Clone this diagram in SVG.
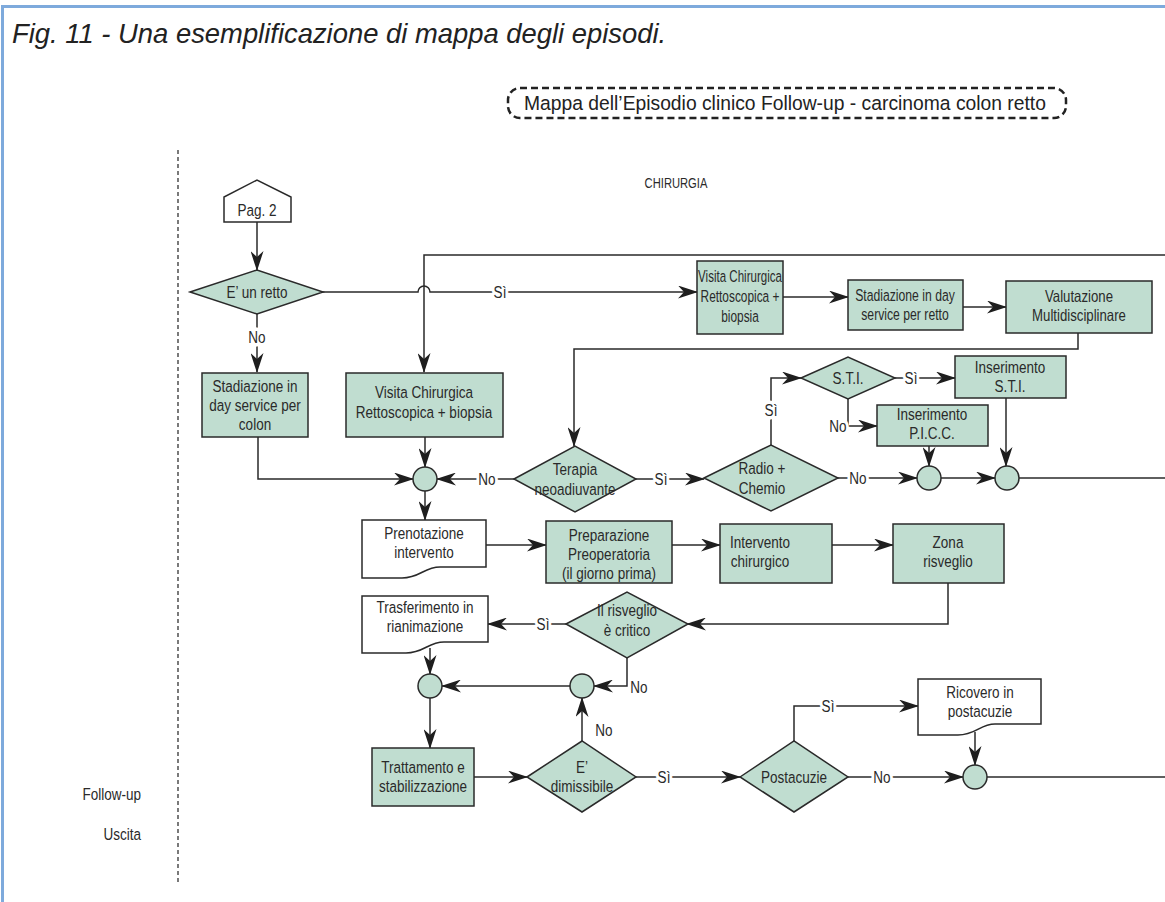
<svg xmlns="http://www.w3.org/2000/svg" width="1165" height="902" viewBox="0 0 1165 902">
<style>
.frame{fill:none;stroke:#7eaadc;stroke-width:3}
.title{font-family:"Liberation Sans",Arial,sans-serif;font-style:italic;font-size:27.4px;fill:#222}
.hdr{font-family:"Liberation Sans",Arial,sans-serif;font-size:19.3px;fill:#222}
.t{font-family:"Liberation Sans",Arial,sans-serif;font-size:16.5px;fill:#2a2a2a;text-anchor:middle}
.lane{font-family:"Liberation Sans",Arial,sans-serif;font-size:16.5px;fill:#2a2a2a;text-anchor:end}
.lbl{font-family:"Liberation Sans",Arial,sans-serif;font-size:16.5px;fill:#2a2a2a;text-anchor:middle;stroke:#fff;stroke-width:7;paint-order:stroke;stroke-linejoin:round}
.box{fill:#c0ddd0;stroke:#2a2a2a;stroke-width:1.5}
.doc{fill:#fff;stroke:#2a2a2a;stroke-width:1.5}
.ln{fill:none;stroke:#2a2a2a;stroke-width:1.5}
.arr{fill:none;stroke:#2a2a2a;stroke-width:1.5;marker-end:url(#ah)}
</style>
<defs>
<marker id="ah" markerUnits="userSpaceOnUse" markerWidth="20" markerHeight="13" viewBox="0 0 20 13" refX="19" refY="6.5" orient="auto">
<path d="M0,0 L20,6.5 L0,13 L6,6.5 Z" fill="#1e1e1e"/>
</marker>
</defs>
<rect width="1165" height="902" fill="#fff"/>
<path class="frame" d="M2.5,902 V6.5 H1165"/>
<text class="title" x="12" y="43">Fig. 11 - Una esemplificazione di mappa degli episodi.</text>
<g id="header">
<rect x="508" y="88" width="558" height="30" rx="12" fill="none" stroke="#222" stroke-width="2.5" stroke-dasharray="7,4"/>
<text class="hdr" x="785" y="110" text-anchor="middle">Mappa dell’Episodio clinico Follow-up - carcinoma colon retto</text>
</g>
<g id="lanes">
<line x1="178" y1="150" x2="178" y2="882" stroke="#222" stroke-width="1.2" stroke-dasharray="4,3"/>
<text class="t" transform="translate(676,188) scale(.8,1)" style="font-size:14px">CHIRURGIA</text>
<text class="lane" transform="translate(141,800) scale(.82,1)">Follow-up</text>
<text class="lane" transform="translate(141,840) scale(.82,1)">Uscita</text>
</g>
<g id="connectors">
<path class="arr" d="M257,222 V270"/>
<path class="arr" d="M257,314 V372"/>
<path class="arr" d="M322,292 H418 A6,6 0 0 1 430,292 H697"/>
<path class="arr" d="M1165,255 H424 V372"/>
<path class="arr" d="M782,297 H848"/>
<path class="arr" d="M963,307 H1006"/>
<path class="arr" d="M1078,333 V349 H574 V446"/>
<path class="arr" d="M771,445 V378 H801"/>
<path class="arr" d="M895,378 H955"/>
<path class="arr" d="M848,399 V426 H877"/>
<path class="arr" d="M929,446 V466"/>
<path class="arr" d="M1006,398 V466"/>
<path class="arr" d="M941,478 H995"/>
<path class="ln" d="M1019,478 H1165"/>
<path class="arr" d="M838,478 H917"/>
<path class="arr" d="M636,479 H704"/>
<path class="arr" d="M514,479 H437"/>
<path class="arr" d="M425,437 V467"/>
<path class="arr" d="M258,437 V479 H413"/>
<path class="arr" d="M425,491 V520"/>
<path class="arr" d="M486,545 H546"/>
<path class="arr" d="M672,545 H720"/>
<path class="arr" d="M832,545 H893"/>
<path class="arr" d="M948,583 V624 H687"/>
<path class="arr" d="M566,624 H488"/>
<path class="arr" d="M430,648 V674"/>
<path class="arr" d="M627,658 V686 H594"/>
<path class="arr" d="M570,686 H442"/>
<path class="arr" d="M430,698 V748"/>
<path class="arr" d="M474,777 H527"/>
<path class="arr" d="M582,741 V698"/>
<path class="arr" d="M636,777 H740"/>
<path class="arr" d="M794,741 V706 H918"/>
<path class="arr" d="M975,732 V765"/>
<path class="arr" d="M848,777 H963"/>
<path class="ln" d="M987,777 H1165"/>
<text class="lbl" transform="translate(257,343) scale(.82,1)">No</text>
<text class="lbl" transform="translate(500,298) scale(.82,1)">Sì</text>
<text class="lbl" transform="translate(771,416) scale(.82,1)">Sì</text>
<text class="lbl" transform="translate(911,384) scale(.82,1)">Sì</text>
<text class="lbl" transform="translate(838,432) scale(.82,1)">No</text>
<text class="lbl" transform="translate(858,484) scale(.82,1)">No</text>
<text class="lbl" transform="translate(487,485) scale(.82,1)">No</text>
<text class="lbl" transform="translate(661,485) scale(.82,1)">Sì</text>
<text class="lbl" transform="translate(543,630) scale(.82,1)">Sì</text>
<text class="lbl" transform="translate(639,693) scale(.82,1)">No</text>
<text class="lbl" transform="translate(604,736) scale(.82,1)">No</text>
<text class="lbl" transform="translate(664,783) scale(.82,1)">Sì</text>
<text class="lbl" transform="translate(828,712) scale(.82,1)">Sì</text>
<text class="lbl" transform="translate(882,783) scale(.82,1)">No</text>
</g>
<g id="pag2">
<polygon class="doc" points="224,222 224,197 257,180 291,197 291,222"/>
<text class="t" transform="translate(257,216) scale(.82,1)">Pag. 2</text>
</g>
<g id="e-un-retto">
<polygon class="box" points="190,292 257,270 323,292 257,314"/>
<text class="t" transform="translate(257,298) scale(.82,1)">E’ un retto</text>
</g>
<g id="stadiazione-colon">
<rect class="box" x="202" y="373" width="106" height="64"/>
<text class="t" transform="translate(255,392) scale(.82,1)">Stadiazione in</text>
<text class="t" transform="translate(255,411) scale(.82,1)">day service per</text>
<text class="t" transform="translate(255,430) scale(.82,1)">colon</text>
</g>
<g id="visita-sx">
<rect class="box" x="346" y="373" width="157" height="64"/>
<text class="t" transform="translate(424,398) scale(.82,1)">Visita Chirurgica</text>
<text class="t" transform="translate(424,418) scale(.82,1)">Rettoscopica + biopsia</text>
</g>
<g id="visita-dx">
<rect class="box" x="697" y="261" width="86" height="73"/>
<text class="t" transform="translate(740,282) scale(.7,1)">Visita Chirurgica</text>
<text class="t" transform="translate(740,302) scale(.72,1)">Rettoscopica +</text>
<text class="t" transform="translate(740,322) scale(.72,1)">biopsia</text>
</g>
<g id="stadiazione-retto">
<rect class="box" x="848" y="280" width="115" height="50"/>
<text class="t" transform="translate(905,301) scale(.74,1)">Stadiazione in day</text>
<text class="t" transform="translate(905,320) scale(.74,1)">service per retto</text>
</g>
<g id="valutazione">
<rect class="box" x="1006" y="281" width="146" height="52"/>
<text class="t" transform="translate(1079,302) scale(.8,1)">Valutazione</text>
<text class="t" transform="translate(1079,321) scale(.8,1)">Multidisciplinare</text>
</g>
<g id="sti">
<polygon class="box" points="801,378 848,357 895,378 848,399"/>
<text class="t" transform="translate(848,384) scale(.82,1)">S.T.I.</text>
</g>
<g id="ins-sti">
<rect class="box" x="955" y="356" width="111" height="42"/>
<text class="t" transform="translate(1010,373) scale(.82,1)">Inserimento</text>
<text class="t" transform="translate(1010,392) scale(.82,1)">S.T.I.</text>
</g>
<g id="ins-picc">
<rect class="box" x="877" y="405" width="111" height="41"/>
<text class="t" transform="translate(932,420) scale(.82,1)">Inserimento</text>
<text class="t" transform="translate(932,439) scale(.82,1)">P.I.C.C.</text>
</g>
<g id="terapia">
<polygon class="box" points="514,479 575,446 636,479 575,512"/>
<text class="t" transform="translate(575,475) scale(.82,1)">Terapia</text>
<text class="t" transform="translate(575,495) scale(.82,1)">neoadiuvante</text>
</g>
<g id="radio">
<polygon class="box" points="704,478 771,445 838,478 771,511"/>
<text class="t" transform="translate(762,474) scale(.82,1)">Radio +</text>
<text class="t" transform="translate(762,494) scale(.82,1)">Chemio</text>
</g>
<g id="j1"><circle class="box" cx="425" cy="479" r="12"/></g>
<g id="j2"><circle class="box" cx="929" cy="478" r="12"/></g>
<g id="j3"><circle class="box" cx="1007" cy="478" r="12"/></g>
<g id="prenotazione">
<path class="doc" d="M362,520 H486 V567 H440 C424,567 420,578 402,578 H362 Z"/>
<text class="t" transform="translate(424,539) scale(.82,1)">Prenotazione</text>
<text class="t" transform="translate(424,558) scale(.82,1)">intervento</text>
</g>
<g id="preparazione">
<rect class="box" x="546" y="521" width="126" height="62"/>
<text class="t" transform="translate(609,541) scale(.82,1)">Preparazione</text>
<text class="t" transform="translate(609,560) scale(.82,1)">Preoperatoria</text>
<text class="t" transform="translate(609,579) scale(.82,1)">(il giorno prima)</text>
</g>
<g id="intervento">
<rect class="box" x="720" y="524" width="112" height="59"/>
<text class="t" transform="translate(760,548) scale(.82,1)">Intervento</text>
<text class="t" transform="translate(760,567) scale(.82,1)">chirurgico</text>
</g>
<g id="zona">
<rect class="box" x="893" y="524" width="111" height="59"/>
<text class="t" transform="translate(948,548) scale(.82,1)">Zona</text>
<text class="t" transform="translate(948,567) scale(.82,1)">risveglio</text>
</g>
<g id="risveglio">
<polygon class="box" points="566,624 627,592 688,624 627,658"/>
<text class="t" transform="translate(627,616) scale(.82,1)">Il risveglio</text>
<text class="t" transform="translate(627,636) scale(.82,1)">è critico</text>
</g>
<g id="trasferimento">
<path class="doc" d="M362,596 H488 V642 H444 C428,642 424,653 406,653 H362 Z"/>
<text class="t" transform="translate(425,613) scale(.82,1)">Trasferimento in</text>
<text class="t" transform="translate(425,632) scale(.82,1)">rianimazione</text>
</g>
<g id="j4"><circle class="box" cx="430" cy="686" r="12"/></g>
<g id="j5"><circle class="box" cx="582" cy="686" r="12"/></g>
<g id="trattamento">
<rect class="box" x="372" y="748" width="102" height="58"/>
<text class="t" transform="translate(423,773) scale(.82,1)">Trattamento e</text>
<text class="t" transform="translate(423,792) scale(.82,1)">stabilizzazione</text>
</g>
<g id="dimissibile">
<polygon class="box" points="527,777 582,741 636,777 582,812"/>
<text class="t" transform="translate(582,773) scale(.82,1)">E’</text>
<text class="t" transform="translate(582,792) scale(.82,1)">dimissibile</text>
</g>
<g id="postacuzie">
<polygon class="box" points="740,777 794,741 848,777 794,812"/>
<text class="t" transform="translate(794,783) scale(.82,1)">Postacuzie</text>
</g>
<g id="ricovero">
<path class="doc" d="M918,679 H1041 V724 H995 C980,724 976,735 958,735 H918 Z"/>
<text class="t" transform="translate(980,698) scale(.82,1)">Ricovero in</text>
<text class="t" transform="translate(980,717) scale(.82,1)">postacuzie</text>
</g>
<g id="j6"><circle class="box" cx="975" cy="777" r="12"/></g>
</svg>
